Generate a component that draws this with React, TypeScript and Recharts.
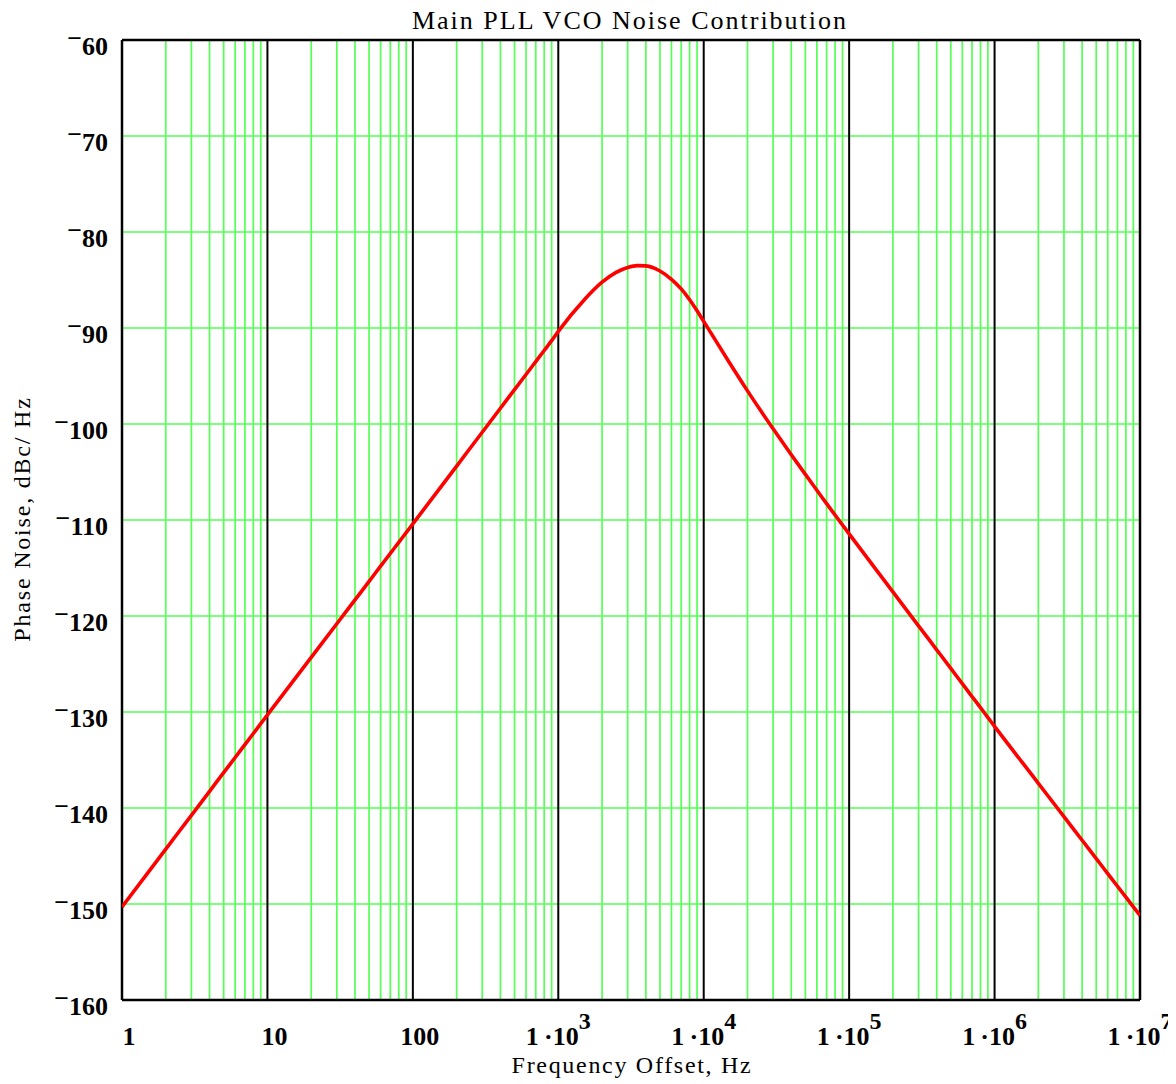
import React from "react";
import { LineChart, Line, XAxis, YAxis, CartesianGrid, ReferenceLine } from "recharts";

const freqHz = [
  1, 2, 3, 4, 5, 6, 7, 8, 9,
  10, 20, 30, 40, 50, 60, 70, 80, 90,
  100, 200, 300, 400, 500, 600, 700, 800, 900,
  1000, 1500, 2000, 2500, 3000, 3500, 4000, 5000, 6000, 7000, 8000, 9000,
  10000, 15000, 20000, 30000, 40000, 50000, 60000, 70000, 80000, 90000,
  100000, 200000, 300000, 400000, 500000, 600000, 700000, 800000, 900000,
  1000000, 2000000, 3000000, 4000000, 5000000, 6000000, 7000000, 8000000, 9000000,
  10000000,
];

const phaseNoise = [
  -150.3, -144.28, -140.76, -138.26, -136.32, -134.74, -133.4, -132.24, -131.22,
  -130.3, -124.31, -120.81, -118.32, -116.39, -114.81, -113.48, -112.33, -111.31,
  -110.4, -104.38, -100.86, -98.36, -96.42, -94.84, -93.5, -92.34, -91.32,
  -90.35, -87.1, -85.23, -84.21, -83.7, -83.5, -83.53, -84.06, -84.93, -85.93, -87.06, -88.21,
  -89.31, -93.6, -96.55, -100.5, -103.2, -105.25, -106.9, -108.3, -109.48, -110.52,
  -111.45, -117.49, -121.02, -123.52, -125.46, -127.05, -128.39, -129.55, -130.58,
  -131.5, -137.43, -140.9, -143.36, -145.27, -146.83, -148.15, -149.29, -150.3,
  -151.2,
];

const decades = [1, 10, 100, 1000, 10000, 100000, 1000000, 10000000];
const decadeMantissa = ["1", "10", "100", "1", "1", "1", "1", "1"];
const decadeExponent = ["", "", "", "3", "4", "5", "6", "7"];
const minorMultipliers = [2, 3, 4, 5, 6, 7, 8, 9];
const yTicks = [-160, -150, -140, -130, -120, -110, -100, -90, -80, -70, -60];

const title = "Main PLL VCO Noise Contribution";
const xLabel = "Frequency Offset, Hz";
const yLabel = "Phase Noise, dBc/ Hz";

const data = freqHz.map((f, i) => ({ f, pn: phaseNoise[i] }));
const minorValues = decades.slice(0, -1).flatMap((d) => minorMultipliers.map((m) => m * d));

const FONT = "'Liberation Serif', 'Times New Roman', serif";
const GREEN = "#55ff55";

const YTick = (props: any) => {
  const { x, y, payload } = props;
  const v = payload.value as number;
  return (
    <text x={x} y={y + 15} textAnchor="end" fontFamily={FONT} fontWeight="bold" fontSize={26} fill="#000">
      <tspan dy={-8}>{v < 0 ? "\u2212" : ""}</tspan>
      <tspan dy={8}>{Math.abs(v)}</tspan>
    </text>
  );
};

const XTick = (props: any) => {
  const { x, y, payload } = props;
  const idx = decades.indexOf(payload.value);
  const exp = decadeExponent[idx] || "";
  const mant = decadeMantissa[idx] || String(payload.value);
  if (!exp) {
    return (
      <text x={x + 7} y={y + 45} textAnchor="middle" fontFamily={FONT} fontWeight="bold" fontSize={26} fill="#000">
        {mant}
      </text>
    );
  }
  return (
    <text x={x} y={y + 45} textAnchor="middle" fontFamily={FONT} fontWeight="bold" fontSize={26} fill="#000">
      <tspan>{mant + "\u2009\u00b710"}</tspan>
      <tspan dy={-16} fontSize={24}>{exp}</tspan>
    </text>
  );
};

export default function App() {
  const W = 1168;
  const H = 1076;
  return (
    <div style={{ position: "relative", width: W, height: H, background: "#fff" }}>
      <LineChart width={W} height={H} data={data} margin={{ top: 32, right: 36, left: 0, bottom: 0 }}>
        <CartesianGrid stroke={GREEN} strokeWidth={1.7} verticalValues={minorValues} syncWithTicks />
        <CartesianGrid stroke="#000" strokeWidth={2} horizontal={false} verticalValues={decades} syncWithTicks />
        <XAxis
          dataKey="f"
          type="number"
          scale="log"
          domain={[1, 10000000]}
          ticks={decades}
          interval={0}
          allowDataOverflow
          axisLine={false}
          tickLine={false}
          tickSize={0}
          tickMargin={0}
          height={84}
          tick={<XTick />}
        />
        <YAxis
          type="number"
          domain={[-160, -60]}
          ticks={yTicks}
          interval={0}
          allowDataOverflow
          axisLine={false}
          tickLine={false}
          tickSize={0}
          tickMargin={14}
          width={114}
          tick={<YTick />}
        />
        <ReferenceLine x={1} stroke="#000" strokeWidth={2.5} />
        <ReferenceLine x={10000000} stroke="#000" strokeWidth={2.5} />
        <ReferenceLine y={-60} stroke="#000" strokeWidth={2.5} />
        <ReferenceLine y={-160} stroke="#000" strokeWidth={2.5} />
        <Line
          type="monotone"
          dataKey="pn"
          stroke="#ff0000"
          strokeWidth={3.6}
          dot={false}
          activeDot={false}
          isAnimationActive={false}
        />
      </LineChart>
      <svg
        width={1176}
        height={1084}
        style={{ position: "absolute", left: -8, top: -8, pointerEvents: "none", overflow: "visible" }}
      >
        <text x={630} y={29} textAnchor="middle" fontFamily={FONT} fontSize={26} style={{ letterSpacing: "2px" }} fill="#000">
          {title}
        </text>
        <text x={632} y={1073} textAnchor="middle" fontFamily={FONT} fontSize={24} style={{ letterSpacing: "1.7px" }} fill="#000">
          {xLabel}
        </text>
        <text
          x={0}
          y={0}
          transform="translate(29.5,519) rotate(-90)"
          textAnchor="middle"
          fontFamily={FONT}
          fontSize={24}
          style={{ letterSpacing: "1.8px" }}
          fill="#000"
        >
          {yLabel}
        </text>
      </svg>
    </div>
  );
}
